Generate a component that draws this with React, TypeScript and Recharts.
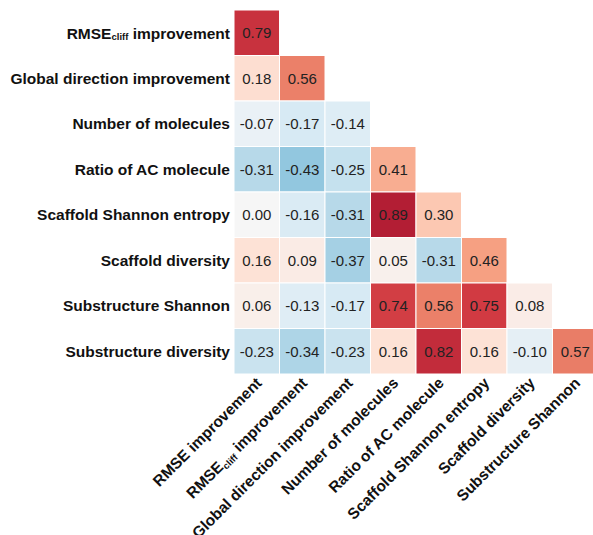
import React from 'react'
import { ScatterChart, Scatter, XAxis, YAxis } from 'recharts'

// row labels (top to bottom) and column labels (left to right)
const rowLabels = [
  'RMSE_cliff improvement',
  'Global direction improvement',
  'Number of molecules',
  'Ratio of AC molecule',
  'Scaffold Shannon entropy',
  'Scaffold diversity',
  'Substructure Shannon',
  'Substructure diversity',
]

const colLabels = [
  'RMSE improvement',
  'RMSE_cliff improvement',
  'Global direction improvement',
  'Number of molecules',
  'Ratio of AC molecule',
  'Scaffold Shannon entropy',
  'Scaffold diversity',
  'Substructure Shannon',
]

// lower triangle, one list per row
const corrRows = [
  [0.79],
  [0.18, 0.56],
  [-0.07, -0.17, -0.14],
  [-0.31, -0.43, -0.25, 0.41],
  [0.0, -0.16, -0.31, 0.89, 0.3],
  [0.16, 0.09, -0.37, 0.05, -0.31, 0.46],
  [0.06, -0.13, -0.17, 0.74, 0.56, 0.75, 0.08],
  [-0.23, -0.34, -0.23, 0.16, 0.82, 0.16, -0.1, 0.57],
]

const tickPos = [0.5, 1.5, 2.5, 3.5, 4.5, 5.5, 6.5, 7.5]

// colour ramp (blue - white - red)
const rampStops: [number, string][] = [
  [-0.45, '#8cc4dd'],
  [-0.3, '#badbea'],
  [-0.15, '#dcecf5'],
  [0, '#f6f6f6'],
  [0.15, '#fde4d9'],
  [0.3, '#fcc8b2'],
  [0.45, '#f7a385'],
  [0.6, '#e6735f'],
  [0.75, '#d13a42'],
  [0.9, '#b11c33'],
]

const hexToRgb = (h: string) => [1, 3, 5].map((i) => parseInt(h.slice(i, i + 2), 16))

const colorFor = (v: number) => {
  if (v <= rampStops[0][0]) return rampStops[0][1]
  for (let i = 1; i < rampStops.length; i++) {
    const [v1, c1] = rampStops[i]
    if (v <= v1) {
      const [v0, c0] = rampStops[i - 1]
      const t = (v - v0) / (v1 - v0)
      const a = hexToRgb(c0)
      const b = hexToRgb(c1)
      const m = a.map((x, k) => Math.round(x + (b[k] - x) * t))
      return `rgb(${m[0]},${m[1]},${m[2]})`
    }
  }
  return rampStops[rampStops.length - 1][1]
}

const cells = corrRows.flatMap((row, r) =>
  row.map((v, c) => ({ x: c + 0.5, y: r + 0.5, v }))
)

const W = 610
const H = 535
const X_AXIS_H = 161
const M = { top: 10, right: 12, bottom: 0, left: 0 }
const CELL = (H - M.top - X_AXIS_H) / 8
const FONT = '"Liberation Sans", Arial, Helvetica, sans-serif'

const renderLabel = (label: string) => {
  if (label.startsWith('RMSE_cliff')) {
    return (
      <>
        <tspan>RMSE</tspan>
        <tspan fontSize={9.5} dy={3}>cliff</tspan>
        <tspan dy={-3}> improvement</tspan>
      </>
    )
  }
  return label
}

const CellShape = (props: any) => {
  const { cx, cy, payload } = props
  return (
    <g>
      <rect
        x={cx - CELL / 2}
        y={cy - CELL / 2}
        width={CELL}
        height={CELL}
        fill={colorFor(payload.v)}
        stroke="#ffffff"
        strokeWidth={1}
      />
      <text
        x={cx}
        y={cy}
        textAnchor="middle"
        dominantBaseline="central"
        fontSize={15}
        fill="#222"
        fontFamily={FONT}
      >
        {payload.v.toFixed(2)}
      </text>
    </g>
  )
}

const YTick = (props: any) => {
  const { x, y, payload } = props
  const label = rowLabels[Math.floor(payload.value)]
  return (
    <text
      x={x}
      y={y}
      textAnchor="end"
      dominantBaseline="central"
      fontSize={15.5}
      fontWeight="bold"
      fill="#111"
      fontFamily={FONT}
    >
      {renderLabel(label)}
    </text>
  )
}

const XTick = (props: any) => {
  const { x, y, payload } = props
  const label = colLabels[Math.floor(payload.value)]
  return (
    <text
      x={x + 6}
      y={y + 10}
      textAnchor="end"
      transform={`rotate(-45 ${x + 6} ${y + 10})`}
      fontSize={15.5}
      fontWeight="bold"
      fill="#111"
      fontFamily={FONT}
    >
      {renderLabel(label)}
    </text>
  )
}

const App = () => {
  return (
    <div
      style={{
        position: 'absolute',
        left: 0,
        top: 0,
        width: 593,
        height: 535,
        overflow: 'hidden',
        background: '#fff',
      }}
    >
      <ScatterChart width={W} height={H} margin={M}>
        <XAxis
          type="number"
          dataKey="x"
          domain={[0, 8]}
          ticks={tickPos}
          interval={0}
          axisLine={false}
          tickLine={false}
          tickSize={0}
          tickMargin={0}
          tick={<XTick />}
          height={X_AXIS_H}
        />
        <YAxis
          type="number"
          dataKey="y"
          domain={[0, 8]}
          ticks={tickPos}
          interval={0}
          reversed
          axisLine={false}
          tickLine={false}
          tickSize={0}
          tickMargin={4}
          tick={<YTick />}
          width={234}
        />
        <Scatter data={cells} shape={<CellShape />} isAnimationActive={false} />
      </ScatterChart>
    </div>
  )
}

export default App
